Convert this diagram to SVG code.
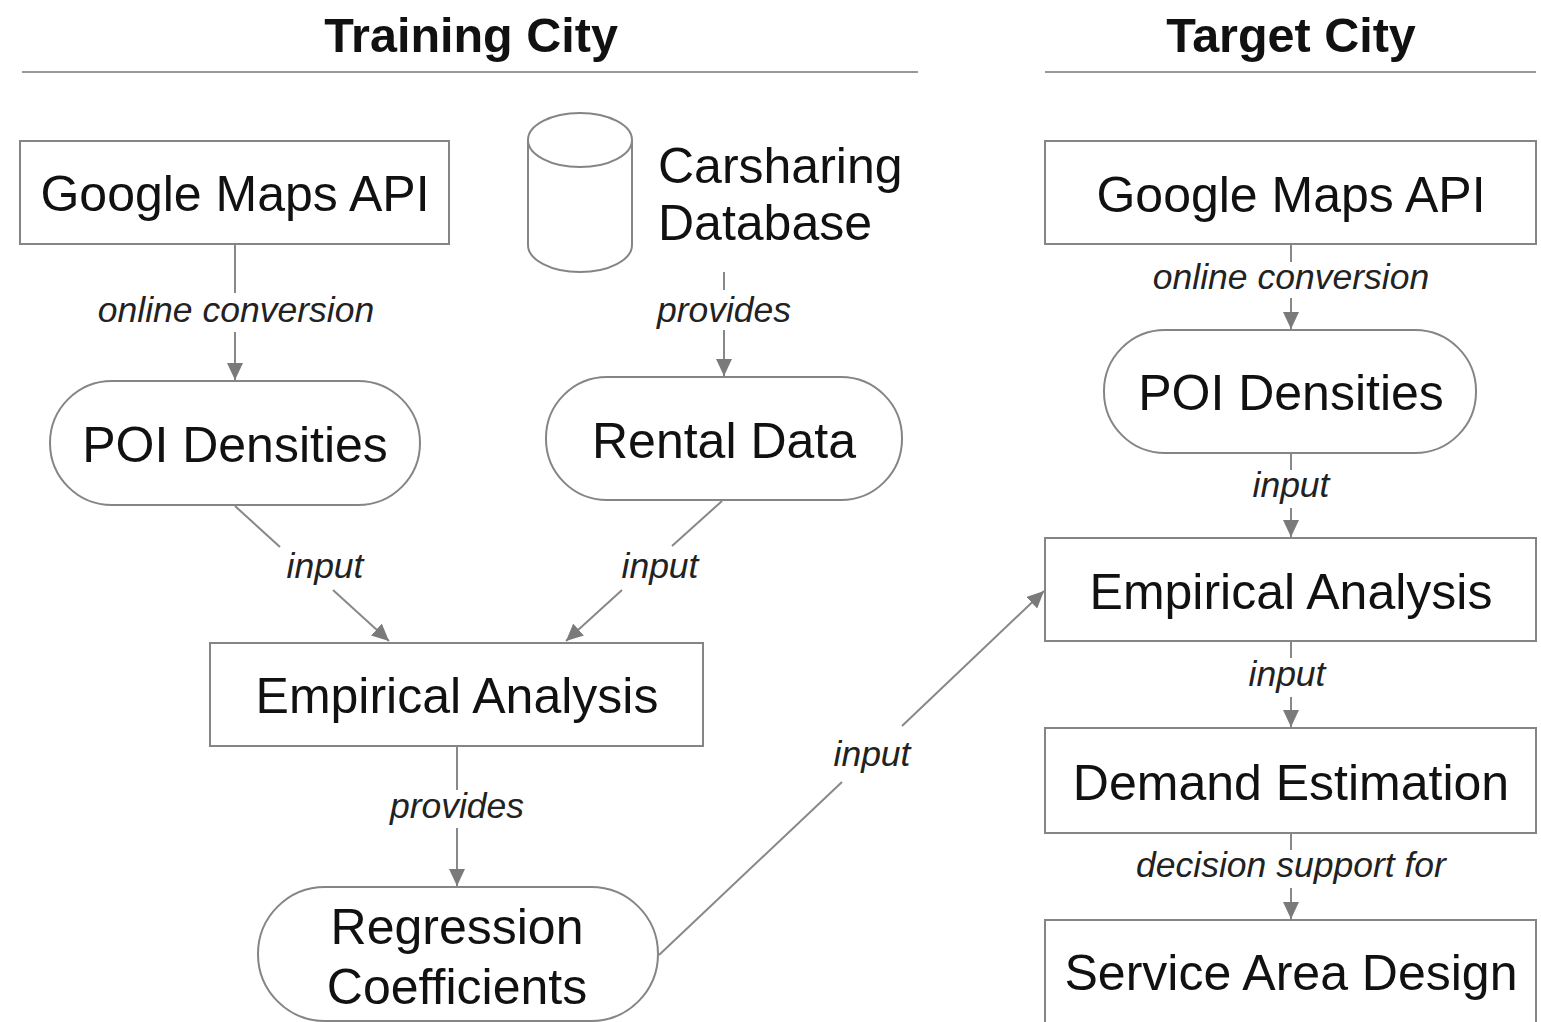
<svg xmlns="http://www.w3.org/2000/svg" width="1541" height="1022" viewBox="0 0 1541 1022">
<style>
.node{fill:#fff;stroke:#858585;stroke-width:2}
.t{font-family:"Liberation Sans",Arial,sans-serif;font-size:50px;fill:#111;text-anchor:middle}
.title{font-family:"Liberation Sans",Arial,sans-serif;font-size:48.5px;font-weight:bold;fill:#111;text-anchor:middle}
.lbl{font-family:"Liberation Sans",Arial,sans-serif;font-size:35.5px;font-style:italic;fill:#222;text-anchor:middle}
.c{stroke:#888;stroke-width:2;fill:none}
.rule{stroke:#999;stroke-width:2}
</style>
<defs>
<marker id="ah" markerUnits="userSpaceOnUse" markerWidth="18" markerHeight="16" refX="17" refY="8" orient="auto">
<path d="M0,0 L17,8 L0,16 z" fill="#7a7a7a"/>
</marker>
</defs>
<rect width="1541" height="1022" fill="#fff"/>
<g id="headers">
<text class="title" x="471" y="52">Training City</text>
<line class="rule" x1="22" y1="72" x2="918" y2="72"/>
<text class="title" x="1291" y="52">Target City</text>
<line class="rule" x1="1045" y1="72" x2="1536" y2="72"/>
</g>
<g id="connectors">
<line class="c" x1="235" y1="244" x2="235" y2="293"/>
<line class="c" x1="235" y1="332" x2="235" y2="380" marker-end="url(#ah)"/>
<text class="lbl" x="236" y="322">online conversion</text>
<line class="c" x1="724" y1="272" x2="724" y2="290"/>
<line class="c" x1="724" y1="330" x2="724" y2="376" marker-end="url(#ah)"/>
<text class="lbl" x="724" y="322">provides</text>
<line class="c" x1="235" y1="506" x2="280" y2="547"/>
<line class="c" x1="333" y1="590" x2="389" y2="641" marker-end="url(#ah)"/>
<text class="lbl" x="325" y="578">input</text>
<line class="c" x1="722" y1="501" x2="672" y2="546"/>
<line class="c" x1="622" y1="590" x2="566" y2="641" marker-end="url(#ah)"/>
<text class="lbl" x="660" y="578">input</text>
<line class="c" x1="457" y1="746" x2="457" y2="790"/>
<line class="c" x1="457" y1="828" x2="457" y2="886" marker-end="url(#ah)"/>
<text class="lbl" x="457" y="818">provides</text>
<line class="c" x1="659" y1="955" x2="842" y2="782"/>
<line class="c" x1="902" y1="726" x2="1044" y2="591" marker-end="url(#ah)"/>
<text class="lbl" x="872" y="766">input</text>
<line class="c" x1="1291" y1="244" x2="1291" y2="262"/>
<line class="c" x1="1291" y1="298" x2="1291" y2="329" marker-end="url(#ah)"/>
<text class="lbl" x="1291" y="289">online conversion</text>
<line class="c" x1="1291" y1="453" x2="1291" y2="470"/>
<line class="c" x1="1291" y1="508" x2="1291" y2="537" marker-end="url(#ah)"/>
<text class="lbl" x="1291" y="497">input</text>
<line class="c" x1="1291" y1="641" x2="1291" y2="658"/>
<line class="c" x1="1291" y1="697" x2="1291" y2="727" marker-end="url(#ah)"/>
<text class="lbl" x="1287" y="686">input</text>
<line class="c" x1="1291" y1="833" x2="1291" y2="850"/>
<line class="c" x1="1291" y1="888" x2="1291" y2="919" marker-end="url(#ah)"/>
<text class="lbl" x="1291" y="877">decision support for</text>
</g>
<g id="gmaps-train">
<rect class="node" x="20" y="141" width="429" height="103"/>
<text class="t" x="235" y="211">Google Maps API</text>
</g>
<g id="carsharing-db">
<path class="node" d="M528,140 L528,245 A52,27 0 0 0 632,245 L632,140"/>
<ellipse class="node" cx="580" cy="140" rx="52" ry="27"/>
<text class="t" x="658" y="183" style="text-anchor:start">Carsharing</text>
<text class="t" x="658" y="240" style="text-anchor:start">Database</text>
</g>
<g id="poi-train">
<rect class="node" x="50" y="381" width="370" height="124" rx="62" ry="62"/>
<text class="t" x="235" y="462">POI Densities</text>
</g>
<g id="rental">
<rect class="node" x="546" y="377" width="356" height="123" rx="61" ry="61"/>
<text class="t" x="724" y="458">Rental Data</text>
</g>
<g id="emp-train">
<rect class="node" x="210" y="643" width="493" height="103"/>
<text class="t" x="457" y="713">Empirical Analysis</text>
</g>
<g id="regression">
<rect class="node" x="258" y="887" width="400" height="134" rx="67" ry="67"/>
<text class="t" x="457" y="944">Regression</text>
<text class="t" x="457" y="1004">Coefficients</text>
</g>
<g id="gmaps-target">
<rect class="node" x="1045" y="141" width="491" height="103"/>
<text class="t" x="1291" y="212">Google Maps API</text>
</g>
<g id="poi-target">
<rect class="node" x="1104" y="330" width="372" height="123" rx="61" ry="61"/>
<text class="t" x="1291" y="410">POI Densities</text>
</g>
<g id="emp-target">
<rect class="node" x="1045" y="538" width="491" height="103"/>
<text class="t" x="1291" y="609">Empirical Analysis</text>
</g>
<g id="demand">
<rect class="node" x="1045" y="728" width="491" height="105"/>
<text class="t" x="1291" y="800">Demand Estimation</text>
</g>
<g id="service-area">
<rect class="node" x="1045" y="920" width="491" height="120"/>
<text class="t" x="1291" y="990">Service Area Design</text>
</g>
</svg>
